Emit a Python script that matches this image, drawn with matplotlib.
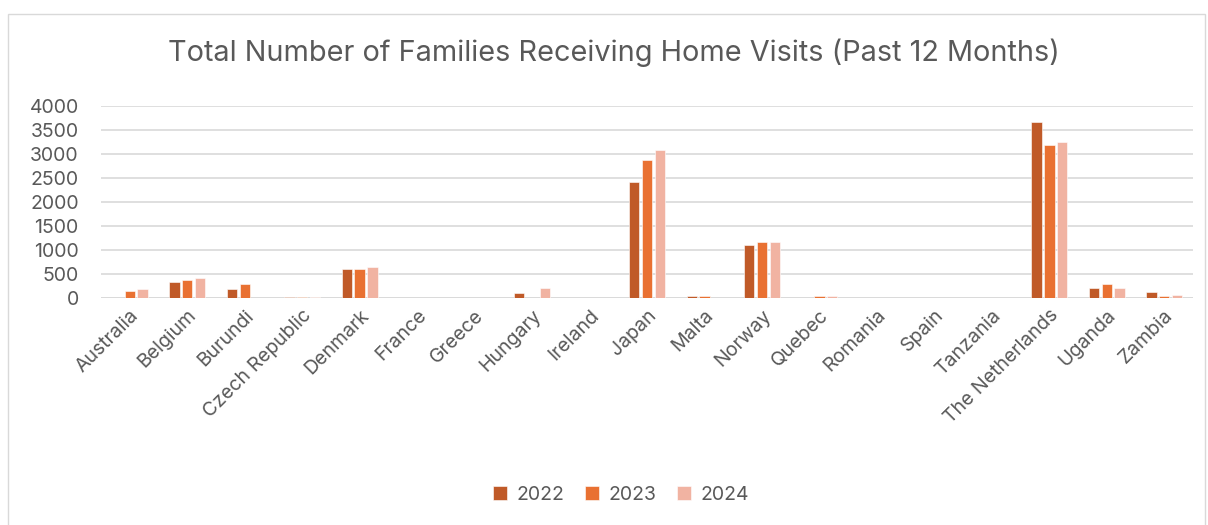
import matplotlib
matplotlib.use("Agg")
import matplotlib.pyplot as plt
import numpy as np
from matplotlib.patches import Rectangle

countries = ["Australia", "Belgium", "Burundi", "Czech Republic", "Denmark", "France",
             "Greece", "Hungary", "Ireland", "Japan", "Malta", "Norway", "Quebec",
             "Romania", "Spain", "Tanzania", "The Netherlands", "Uganda", "Zambia"]
years = ["2022", "2023", "2024"]
v2022 = [0, 340, 180, 28, 597, 0, 0, 104, 0, 2410, 35, 1104, 0, 3, 0, 0, 3660, 201, 118]
v2023 = [146, 375, 292, 28, 611, 0, 0, 0, 0, 2868, 35, 1174, 35, 0, 0, 0, 3174, 292, 35]
v2024 = [180, 424, 0, 20, 639, 0, 5, 201, 5, 3076, 5, 1174, 49, 0, 0, 10, 3243, 201, 62]
colors = ["#C05A28", "#E97132", "#F1B3A2"]

plt.rcParams["font.family"] = ["Inter", "DejaVu Sans"]
text_color = "#595959"

fig = plt.figure(figsize=(12.08, 5.25), dpi=100)
ax = fig.add_axes([0.0836, 0.4324, 0.904, 0.3663])

x = np.arange(len(countries))
step = 0.222
width = 0.18
for i, (vals, yr, c) in enumerate(zip([v2022, v2023, v2024], years, colors)):
    ax.bar(x + (i - 1) * step, vals, width=width, color=c, label=yr,
           edgecolor="white", linewidth=0.4, zorder=3)

ax.set_xlim(-0.5, len(countries) - 0.5)
ax.set_ylim(0, 4000)
ax.set_yticks(np.arange(0, 4001, 500))
ax.yaxis.grid(True, color="#D9D9D9", linewidth=1.2, zorder=0)
ax.set_axisbelow(True)
for s in ax.spines.values():
    s.set_visible(False)
ax.axhline(0, color="#D9D9D9", linewidth=1.2, zorder=1)
ax.tick_params(axis="both", length=0, labelsize=14, colors=text_color)
ax.tick_params(axis="y", pad=16)
ax.set_xticks(x)
ax.set_xticklabels(countries, rotation=45, ha="right", rotation_mode="anchor",
                   fontsize=14, color=text_color)
ax.tick_params(axis="x", pad=6)

fig.text(0.508, 0.90, "Total Number of Families Receiving Home Visits (Past 12 Months)",
         ha="center", va="center", fontsize=20.8, color=text_color)

leg = fig.legend(loc="center", bbox_to_anchor=(0.514, 0.057), ncol=3, frameon=False,
                 fontsize=14, handlelength=0.72, handleheight=0.72,
                 handletextpad=0.45, columnspacing=1.1, labelcolor=text_color)

fig.patches.append(Rectangle((8 / 1208, -0.01), 1197 / 1208, 1 - 14 / 525 + 0.01,
                             transform=fig.transFigure, fill=False,
                             edgecolor="#D9D9D9", linewidth=1.0))

fig.savefig("out.png", dpi=100)
